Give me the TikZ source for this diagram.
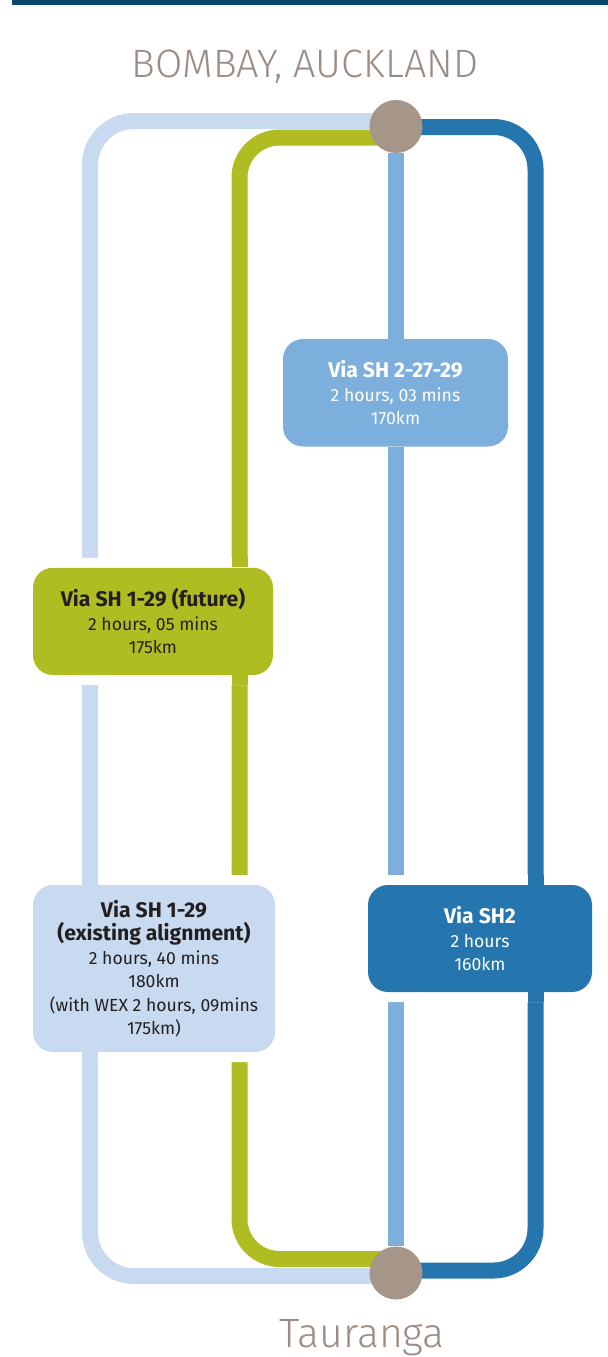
\documentclass[tikz,border=0pt]{standalone}
\usepackage{fontspec}
\setmainfont{Fira Sans}
\newfontfamily\lightfont{Fira Sans Light}
\usepackage{tikz}
\usetikzlibrary{backgrounds}

\definecolor{rulenavy}{RGB}{6,73,106}
\definecolor{placegrey}{RGB}{155,141,131}
\definecolor{stone}{RGB}{166,150,137}
\definecolor{palebl}{RGB}{200,218,239}
\definecolor{limegr}{RGB}{176,189,34}
\definecolor{midbl}{RGB}{125,175,221}
\definecolor{deepbl}{RGB}{37,117,175}
\definecolor{inkdark}{RGB}{35,31,32}

\tikzset{
  station/.style={circle, fill=stone, minimum size=26.5pt, inner sep=0pt},
  place/.style={anchor=base, text=placegrey, inner sep=0pt},
  route/.style={line width=8pt},
  routebox/.style={rectangle, rounded corners=10pt, inner sep=0pt, align=center, text=white, font=\normalfont\fontsize{8.8}{11.75}\selectfont, preaction={draw=white, line width=10pt}}
}
\newcommand{\routehead}[1]{{\bfseries\fontsize{10.6}{11.75}\selectfont #1}}

\begin{document}
\begin{tikzpicture}[x=0.5pt, y=-0.5pt]
\useasboundingbox (0,0) rectangle (608,1357);

% Top rule
\fill[rulenavy] (12,0) rectangle (608,4.5);

% Places
\node[place, font=\lightfont\fontsize{19.8}{19.8}\selectfont] (bombaytxt) at (305,77) {BOMBAY, AUCKLAND};
\node[place, font=\lightfont\fontsize{20.5}{20.5}\selectfont] (taurangatxt) at (362,1347) {Tauranga};

% Stations
\node[station] (bombay) at (396,126.5) {};
\node[station] (tauranga) at (396,1273) {};

% Route columns
\coordinate (palecol) at (90,0);
\coordinate (limecol) at (239.5,0);
\coordinate (deepcol) at (535.5,0);

% Routes
\begin{scope}[on background layer]
\draw[route, palebl, rounded corners=22pt] (bombay |- 0,121) -| (palecol |- 0,1276) -- (tauranga |- 0,1276);
\draw[route, limegr, rounded corners=20pt] (bombay |- 0,137.5) -| (limecol |- 0,1259) -- (tauranga |- 0,1259);
\draw[route, midbl] (bombay) -- (tauranga);
\draw[route, deepbl, rounded corners=21pt] (bombay |- 0,127) -| (deepcol |- 0,1270.5) -- (tauranga |- 0,1270.5);
\end{scope}

% Route boxes
\node[routebox, fill=midbl, minimum width=112.5pt, minimum height=53.75pt] (sh22729) at (395.5,392.75)
  {\routehead{Via SH 2-27-29}\\2 hours, 03 mins\\170km};
\node[routebox, fill=limegr, text=inkdark, minimum width=120pt, minimum height=53.65pt] (future) at (153,621.4)
  {\routehead{Via SH 1-29 (future)}\\2 hours, 05 mins\\175km};
\node[routebox, fill=palebl, text=inkdark, minimum width=121pt, minimum height=83.5pt] (existing) at (154,968.5)
  {\routehead{Via SH 1-29}\\\routehead{(existing alignment)}\\2 hours, 40 mins\\180km\\(with WEX 2 hours, 09mins\\175km)};
\node[routebox, fill=deepbl, minimum width=112pt, minimum height=53.5pt] (shtwo) at (480,938.5)
  {\routehead{Via SH2}\\2 hours\\160km};

% Own route through its box
\foreach \bx/\col/\colx in {sh22729/midbl/bombay, future/limegr/limecol, existing/palebl/palecol, shtwo/deepbl/deepcol} {
  \draw[route, \col] ([yshift=5pt]\bx.north -| \colx) -- (\bx.north -| \colx);
  \draw[route, \col] (\bx.south -| \colx) -- ([yshift=-5pt]\bx.south -| \colx);
}
\end{tikzpicture}
\end{document}
